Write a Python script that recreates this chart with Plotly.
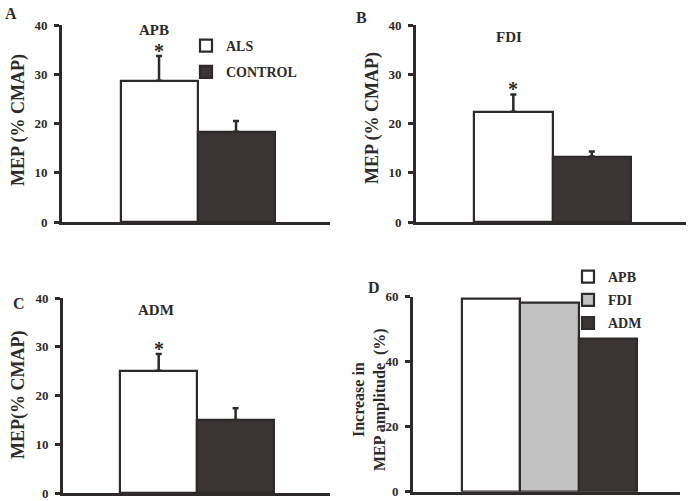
import plotly.graph_objects as go

# ---- data ----
groups = ["ALS", "CONTROL"]
muscles = ["APB", "FDI", "ADM"]
mep_als = [28.7, 22.4, 25.1]
mep_als_err = [5.0, 3.5, 3.4]
mep_ctrl = [18.3, 13.3, 15.0]
mep_ctrl_err = [2.2, 1.0, 2.4]
increase_pct = [59.3, 58.3, 47.2]
mep_ticks = [0, 10, 20, 30, 40]
inc_ticks = [0, 20, 40, 60]

W, H = 691, 501
FONT = "Liberation Serif"
INK = "#2e2a2a"
DARK = "#3a3434"
GRAY = "#c2c2c2"


def px(x):
    return x / W


def py(y):
    return 1 - y / H


fig = go.Figure()

# panels A, B, C
panel_axes = ["", "2", "3"]
for i, m in enumerate(muscles):
    ax = panel_axes[i]
    fig.add_trace(go.Bar(
        x=[groups[0]], y=[mep_als[i]], name=groups[0],
        xaxis="x" + ax, yaxis="y" + ax,
        marker=dict(color="white", line=dict(color=INK, width=2.2)),
        error_y=dict(type="data", symmetric=False, array=[mep_als_err[i]], arrayminus=[0],
                     color=INK, thickness=2.5, width=3),
        showlegend=(i == 0), legend="legend", legendgroup="als",
    ))
    fig.add_trace(go.Bar(
        x=[groups[1]], y=[mep_ctrl[i]], name=groups[1],
        xaxis="x" + ax, yaxis="y" + ax,
        marker=dict(color=DARK, line=dict(color=INK, width=2.2)),
        error_y=dict(type="data", symmetric=False, array=[mep_ctrl_err[i]], arrayminus=[0],
                     color=INK, thickness=2.5, width=3),
        showlegend=(i == 0), legend="legend", legendgroup="ctrl",
    ))

# panel D
d_colors = ["white", GRAY, DARK]
for j, m in enumerate(muscles):
    fig.add_trace(go.Bar(
        x=[m], y=[increase_pct[j]], name=m,
        xaxis="x4", yaxis="y4",
        marker=dict(color=d_colors[j], line=dict(color=INK, width=2.2)),
        showlegend=True, legend="legend2", legendgroup="d" + m,
    ))

axis_font = dict(family=FONT, size=13, color=INK, weight="bold")


def yax(domain, rng, ticks, anchor):
    return dict(domain=domain, range=rng, tickvals=ticks, ticks="outside", ticklen=5,
                tickwidth=2.5, tickcolor=INK, showline=True, linewidth=3, linecolor=INK,
                showgrid=False, zeroline=False, tickfont=axis_font, ticklabelstandoff=4,
                fixedrange=True, automargin=False, anchor=anchor)


def xax(domain, rng, anchor):
    return dict(domain=domain, range=rng, type="category", showline=True, linewidth=3,
                linecolor=INK, showticklabels=False, ticks="", showgrid=False,
                zeroline=False, anchor=anchor, fixedrange=True, automargin=False)


leg_font = dict(family=FONT, size=14, color=INK, weight="bold")

fig.update_layout(
    width=W, height=H, autosize=False,
    margin=dict(l=0, r=0, t=0, b=0, autoexpand=False),
    paper_bgcolor="white", plot_bgcolor="white",
    barmode="overlay", bargap=0,
    font=dict(family=FONT, color=INK),
    xaxis=xax([px(62), px(330)], [-1.26, 2.22], "y"),
    yaxis=yax([py(222), py(25)], [0, 40], mep_ticks, "x"),
    xaxis2=xax([px(416), px(686)], [-1.24, 2.20], "y2"),
    yaxis2=yax([py(222), py(25)], [0, 40], mep_ticks, "x2"),
    xaxis3=xax([px(63), px(330)], [-1.244, 2.227], "y3"),
    yaxis3=yax([py(493), py(298)], [0, 40], mep_ticks, "x3"),
    xaxis4=xax([px(413), px(680)], [-1.333, 3.23], "y4"),
    yaxis4=yax([py(491.7), py(296.7)], [0, 60], inc_ticks, "x4"),
    legend=dict(x=px(186), y=py(30), xanchor="left", yanchor="top", font=leg_font,
                bgcolor="rgba(0,0,0,0)", tracegroupgap=5, itemwidth=30),
    legend2=dict(x=px(568), y=py(261), xanchor="left", yanchor="top", font=leg_font,
                 bgcolor="rgba(0,0,0,0)", tracegroupgap=2, itemwidth=30),
)

ann = []


def bold(s):
    return dict(family=FONT, size=s, color=INK, weight="bold")


def note(t, x, y, size, angle=0):
    return dict(text=t, x=px(x), y=py(y), xref="paper", yref="paper", xanchor="center",
                yanchor="middle", textangle=angle, showarrow=False, font=bold(size))


# panel letters
for t, x, y in [("A", 11, 13), ("B", 361, 17), ("C", 19, 303), ("D", 374, 287)]:
    ann.append(note(t, x, y, 16))
# muscle titles
for t, x, y in [(muscles[0], 154, 30), (muscles[1], 509, 37), (muscles[2], 156, 310)]:
    ann.append(note(t, x, y, 15))
# y-axis titles
for t, x, y in [("MEP (% CMAP)", 18, 120), ("MEP (% CMAP)", 372, 118), ("MEP(% CMAP)", 18, 395)]:
    ann.append(note(t, x, y, 18, -90))
ann.append(note("Increase in<br>MEP amplitude  (%)", 369, 400, 16, -90))
# asterisks
for i, ax in enumerate(panel_axes):
    ann.append(dict(text="*", x=groups[0], y=mep_als[i] + mep_als_err[i],
                    xref="x" + ax, yref="y" + ax, xanchor="center", yanchor="bottom",
                    showarrow=False, font=bold(20), yshift=-8))
fig.update_layout(annotations=ann)

fig.write_html("out.html", config={"displayModeBar": False},
               post_script="document.body.style.margin='0';")
